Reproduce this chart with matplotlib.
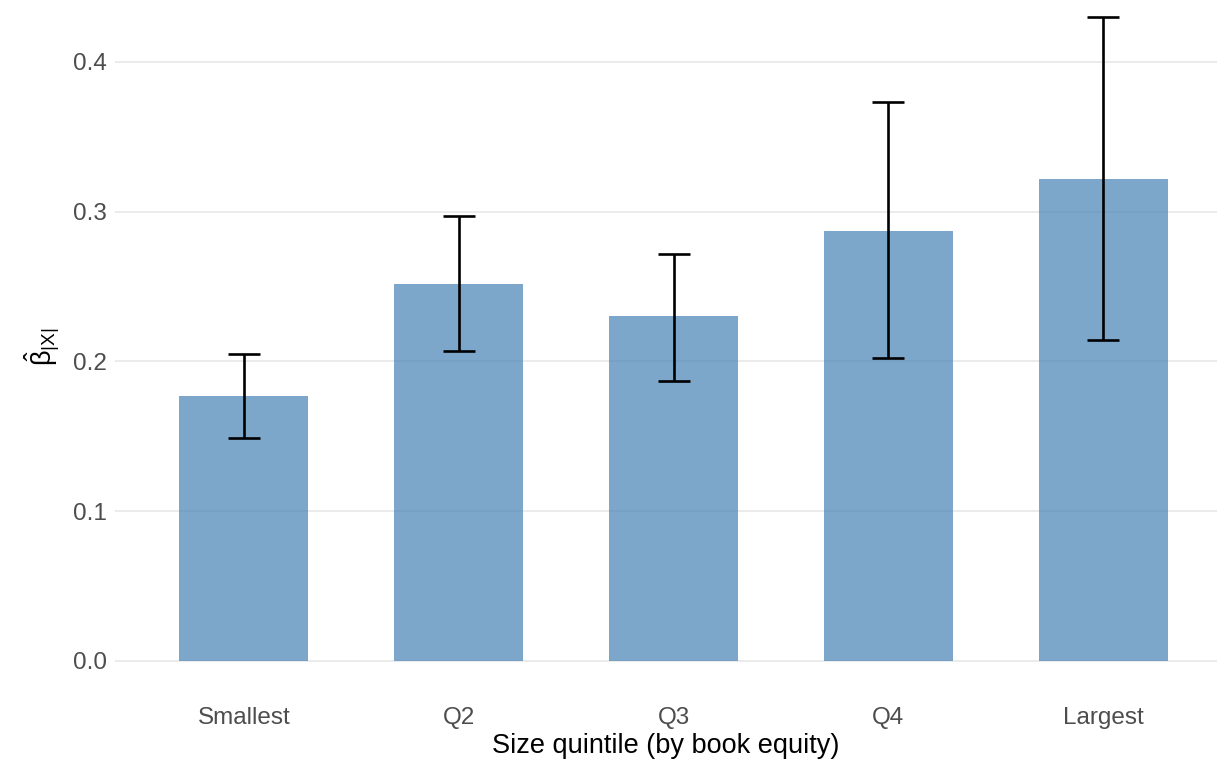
import matplotlib.pyplot as plt
import numpy as np

plt.rcParams['font.family'] = ['Liberation Sans', 'DejaVu Sans']
plt.rcParams['mathtext.fontset'] = 'custom'
plt.rcParams['mathtext.rm'] = 'Liberation Sans'
plt.rcParams['mathtext.it'] = 'Liberation Sans'

quintiles = ["Smallest", "Q2", "Q3", "Q4", "Largest"]
beta = [0.177, 0.252, 0.230, 0.287, 0.322]
ci_low = [0.149, 0.207, 0.187, 0.202, 0.214]
ci_high = [0.205, 0.297, 0.272, 0.373, 0.430]

fig = plt.figure(figsize=(12.17, 7.62), dpi=100)
ax = fig.add_axes([115 / 1217, 1 - 693 / 762, 1102 / 1217, 693 / 762])

x = np.arange(1, len(quintiles) + 1)
ax.bar(x, beta, width=0.6, color="steelblue", alpha=0.7, zorder=2)

# 95% interval around each estimate
err = [np.array(beta) - np.array(ci_low), np.array(ci_high) - np.array(beta)]
ax.errorbar(x, beta, yerr=err, fmt="none", ecolor="black", elinewidth=1.9,
            capsize=11.5, capthick=1.9, zorder=3)

ax.set_xlim(0.4, 5.53)
ax.set_ylim(-0.0215, 0.4414)
ax.set_yticks([0.0, 0.1, 0.2, 0.3, 0.4])
ax.set_xticks(x)
ax.set_xticklabels(quintiles)

for side in ax.spines.values():
    side.set_visible(False)
ax.grid(axis="y", color="#EBEBEB", linewidth=1.4, zorder=0)
ax.tick_params(axis="both", length=0, labelsize=17.5, labelcolor="#4D4D4D", pad=6)
ax.tick_params(axis="x", pad=10)

ax.set_xlabel("Size quintile (by book equity)", fontsize=19.5, labelpad=3)
ax.set_ylabel(r"$\hat{\beta}_{\mathrm{|X|}}$", fontsize=19.5, labelpad=8)

fig.savefig("out.png", dpi=100)
